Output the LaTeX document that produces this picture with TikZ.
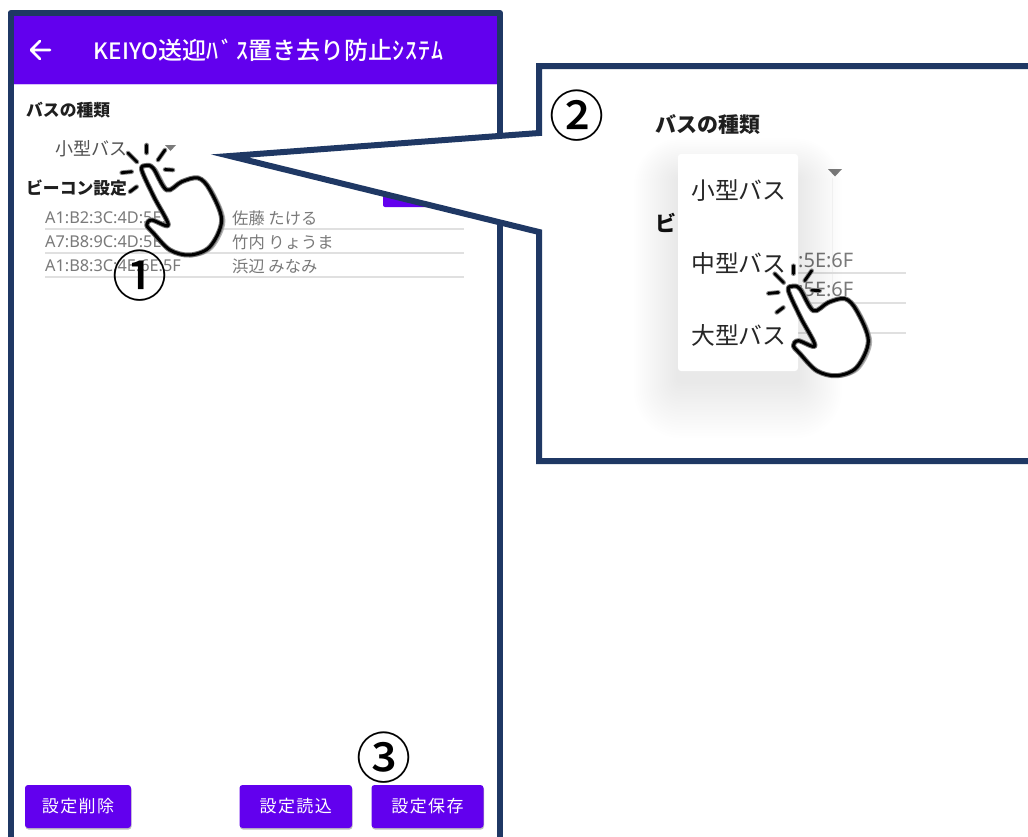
\documentclass[tikz,border=0pt]{standalone}
\usepackage{fontspec}
\setmainfont{Noto Sans CJK JP}
\newfontfamily\medfont{Noto Sans CJK JP Medium}
\newfontfamily\btnfont[LetterSpace=8]{Noto Sans CJK JP}
\newfontfamily\latinfont{Noto Sans}
\definecolor{framec}{HTML}{1F3864}
\definecolor{purplec}{HTML}{6200EE}
\definecolor{greytx}{HTML}{7A7A7A}
\definecolor{rulec}{HTML}{E0E0E0}
\tikzset{
  framepath/.style={draw=framec,line width=6pt,miter limit=12},
  lbl/.style={inner sep=0pt,anchor=west},
  boldlbl/.style={lbl,font=\bfseries\fontsize{16.8}{18}\selectfont,text=black!88},
  biglbl/.style={lbl,font=\bfseries\fontsize{21}{24}\selectfont,text=black!88},
  macrow/.style={lbl,font=\latinfont\fontsize{16.3}{18}\selectfont,text=greytx},
  macbig/.style={lbl,font=\latinfont\fontsize{20}{22}\selectfont,text=greytx},
  namerow/.style={lbl,font=\fontsize{16.3}{18}\selectfont,text=greytx},
  menuitem/.style={lbl,font=\fontsize{23.8}{26}\selectfont,text=black!85},
  btn/.style={fill=purplec,rounded corners=3pt,inner sep=0pt,text=white,font=\btnfont\fontsize{17}{18}\selectfont,minimum height=43pt},
  circnum/.style={inner sep=0pt,font=\medfont\fontsize{55}{60}\selectfont,text=black},
  tri/.style={fill=greytx,draw=none},
  rulel/.style={draw=rulec,line width=1.3pt},
}
\newcommand{\handoutline}{plot[smooth cycle,tension=0.55] coordinates {(141.7,170)(154,197)(168.3,225)(151.7,220)(146.7,225)(153.3,233)(170,250)(190,255)(210,246.7)(221.7,220)(210,190)(198.3,178)(181.7,181.7)(166.7,190)(153.3,168.3)(146,165.5)}}
\newcommand{\handmark}[2]{%
  \begin{scope}[shift={(#1,#2)}]
    \draw[black!30,line width=3pt,line join=round,shift={(2.2,0.8)}] \handoutline;
    \draw[fill=white,draw=black!55,line width=5pt,line join=round] \handoutline;
    \draw[draw=black,line width=3pt,line join=round] \handoutline;
    \foreach \ax/\ay/\bx/\by in {128/153/137/162,146.7/145/146.7/153,165/150/158/160,165/169.5/173/170,121.7/172.7/131.7/171.7,130/191.7/136.7/186.7}{
      \draw[black!45,line width=4.6pt,line cap=round] (\ax,\ay) -- (\bx,\by);
      \draw[black,line width=2.8pt,line cap=round] (\ax,\ay) -- (\bx,\by);
    }
  \end{scope}}
\begin{document}
\begin{tikzpicture}[x=1pt,y=-1pt]
\useasboundingbox (0,0) rectangle (1028,836);
\clip (0,0) rectangle (1028,836);
\fill[white] (0,0) rectangle (1028,836);

% phone
\fill[purplec] (13,16) rectangle (497,84);
\fill[purplec!25] (13,84) rectangle (497,85.2);
\draw[framepath,line join=round] (10.5,845) -- (10.5,13) -- (500,13) -- (500,845);
\draw[white,line width=2.6pt,line cap=round,line join=round] (50,50) -- (31.5,50) (40,41) -- (31,50) -- (40,59);
\node[lbl,text=white,font=\medfont\fontsize{24}{26}\selectfont] (title) at (93.5,50.5) {{\fontsize{22.5}{26}\selectfont KEIYO}送迎ﾊ\kern3ptﾞ\kern3ptｽ置き去り防止ｼ\kern1ptｽ\kern1ptﾃ\kern1ptﾑ};

\node[boldlbl] (lblbus) at (26,110) {バスの種類};
\node[lbl,font=\fontsize{18}{20}\selectfont,text=black!68] (sel) at (55,148.5) {小型バス};
\fill[tri] (165,145) -- (176,145) -- (170.5,151) -- cycle;
\node[boldlbl] (lblbeacon) at (26,188) {ビーコン設定};
\fill[purplec,rounded corners=2pt] (383,185) rectangle (440,207);

\node[macrow] (m1) at (45,218) {A1:B2:3C:4D:5E:6F};
\node[macrow] (m2) at (45,242) {A7:B8:9C:4D:5E:6F};
\node[macrow] (m3) at (45,266) {A1:B8:3C:4E:6E:5F};
\node[namerow] (n1) at (232,218) {佐藤 たける};
\node[namerow] (n2) at (232,242) {竹内 りょうま};
\node[namerow] (n3) at (232,266) {浜辺 みなみ};
\foreach \yy in {229,253,277} \draw[rulel] (45,\yy) -- (464,\yy);

\foreach \xa/\xb/\nm/\tx in {25/131/b1/設定削除,239.5/352/b2/設定読込,371.5/483.5/b3/設定保存}{
  \fill[black!25,rounded corners=3pt] (\xa+0.5,786.5) rectangle (\xb+0.5,829.5);
  \node[btn,minimum width={\xb-\xa}] (\nm) at ({(\xa+\xb)/2},806.5) {\tx};
}

\handmark{0}{0}

% callout
\path[framepath,fill=white] (1040,66) -- (539,66) -- (539,133) -- (230,156) -- (539,232) -- (539,461) -- (1040,461);

% callout contents
\node[biglbl] (lblbus2) at (655,125) {バスの種類};
\fill[tri] (828,169) -- (842,169) -- (835,176.5) -- cycle;
\node[biglbl] (lblb2) at (655,223) {ビ};
\draw[black!4,line width=0.8pt] (832,178) -- (832,372);
\node[macbig] (m1b) at (798,260) {:5E:6F};
\node[macbig] (m2b) at (798,289) {:5E:6F};
\foreach \yy in {273,303,333} \draw[rulel] (790,\yy) -- (906,\yy);

\foreach \i in {1,...,22}
  \fill[black,opacity=0.0055,rounded corners={(3+2*\i)*1pt}] (678-2*\i,178-1.8*\i) rectangle (798+2*\i,381+2.6*\i);
\fill[white,rounded corners=3pt] (678,154) rectangle (798,371);
\node[menuitem] (it1) at (691,191) {小型バス};
\node[menuitem] (it2) at (691,263) {中型バス};
\node[menuitem] (it3) at (691,335) {大型バス};

\handmark{646.7}{120.7}

% numbers
\node[circnum] (c1) at (140,276) {①};
\node[circnum] (c2) at (576.7,116) {②};
\node[circnum] (c3) at (384.3,757.3) {③};
\end{tikzpicture}
\end{document}
